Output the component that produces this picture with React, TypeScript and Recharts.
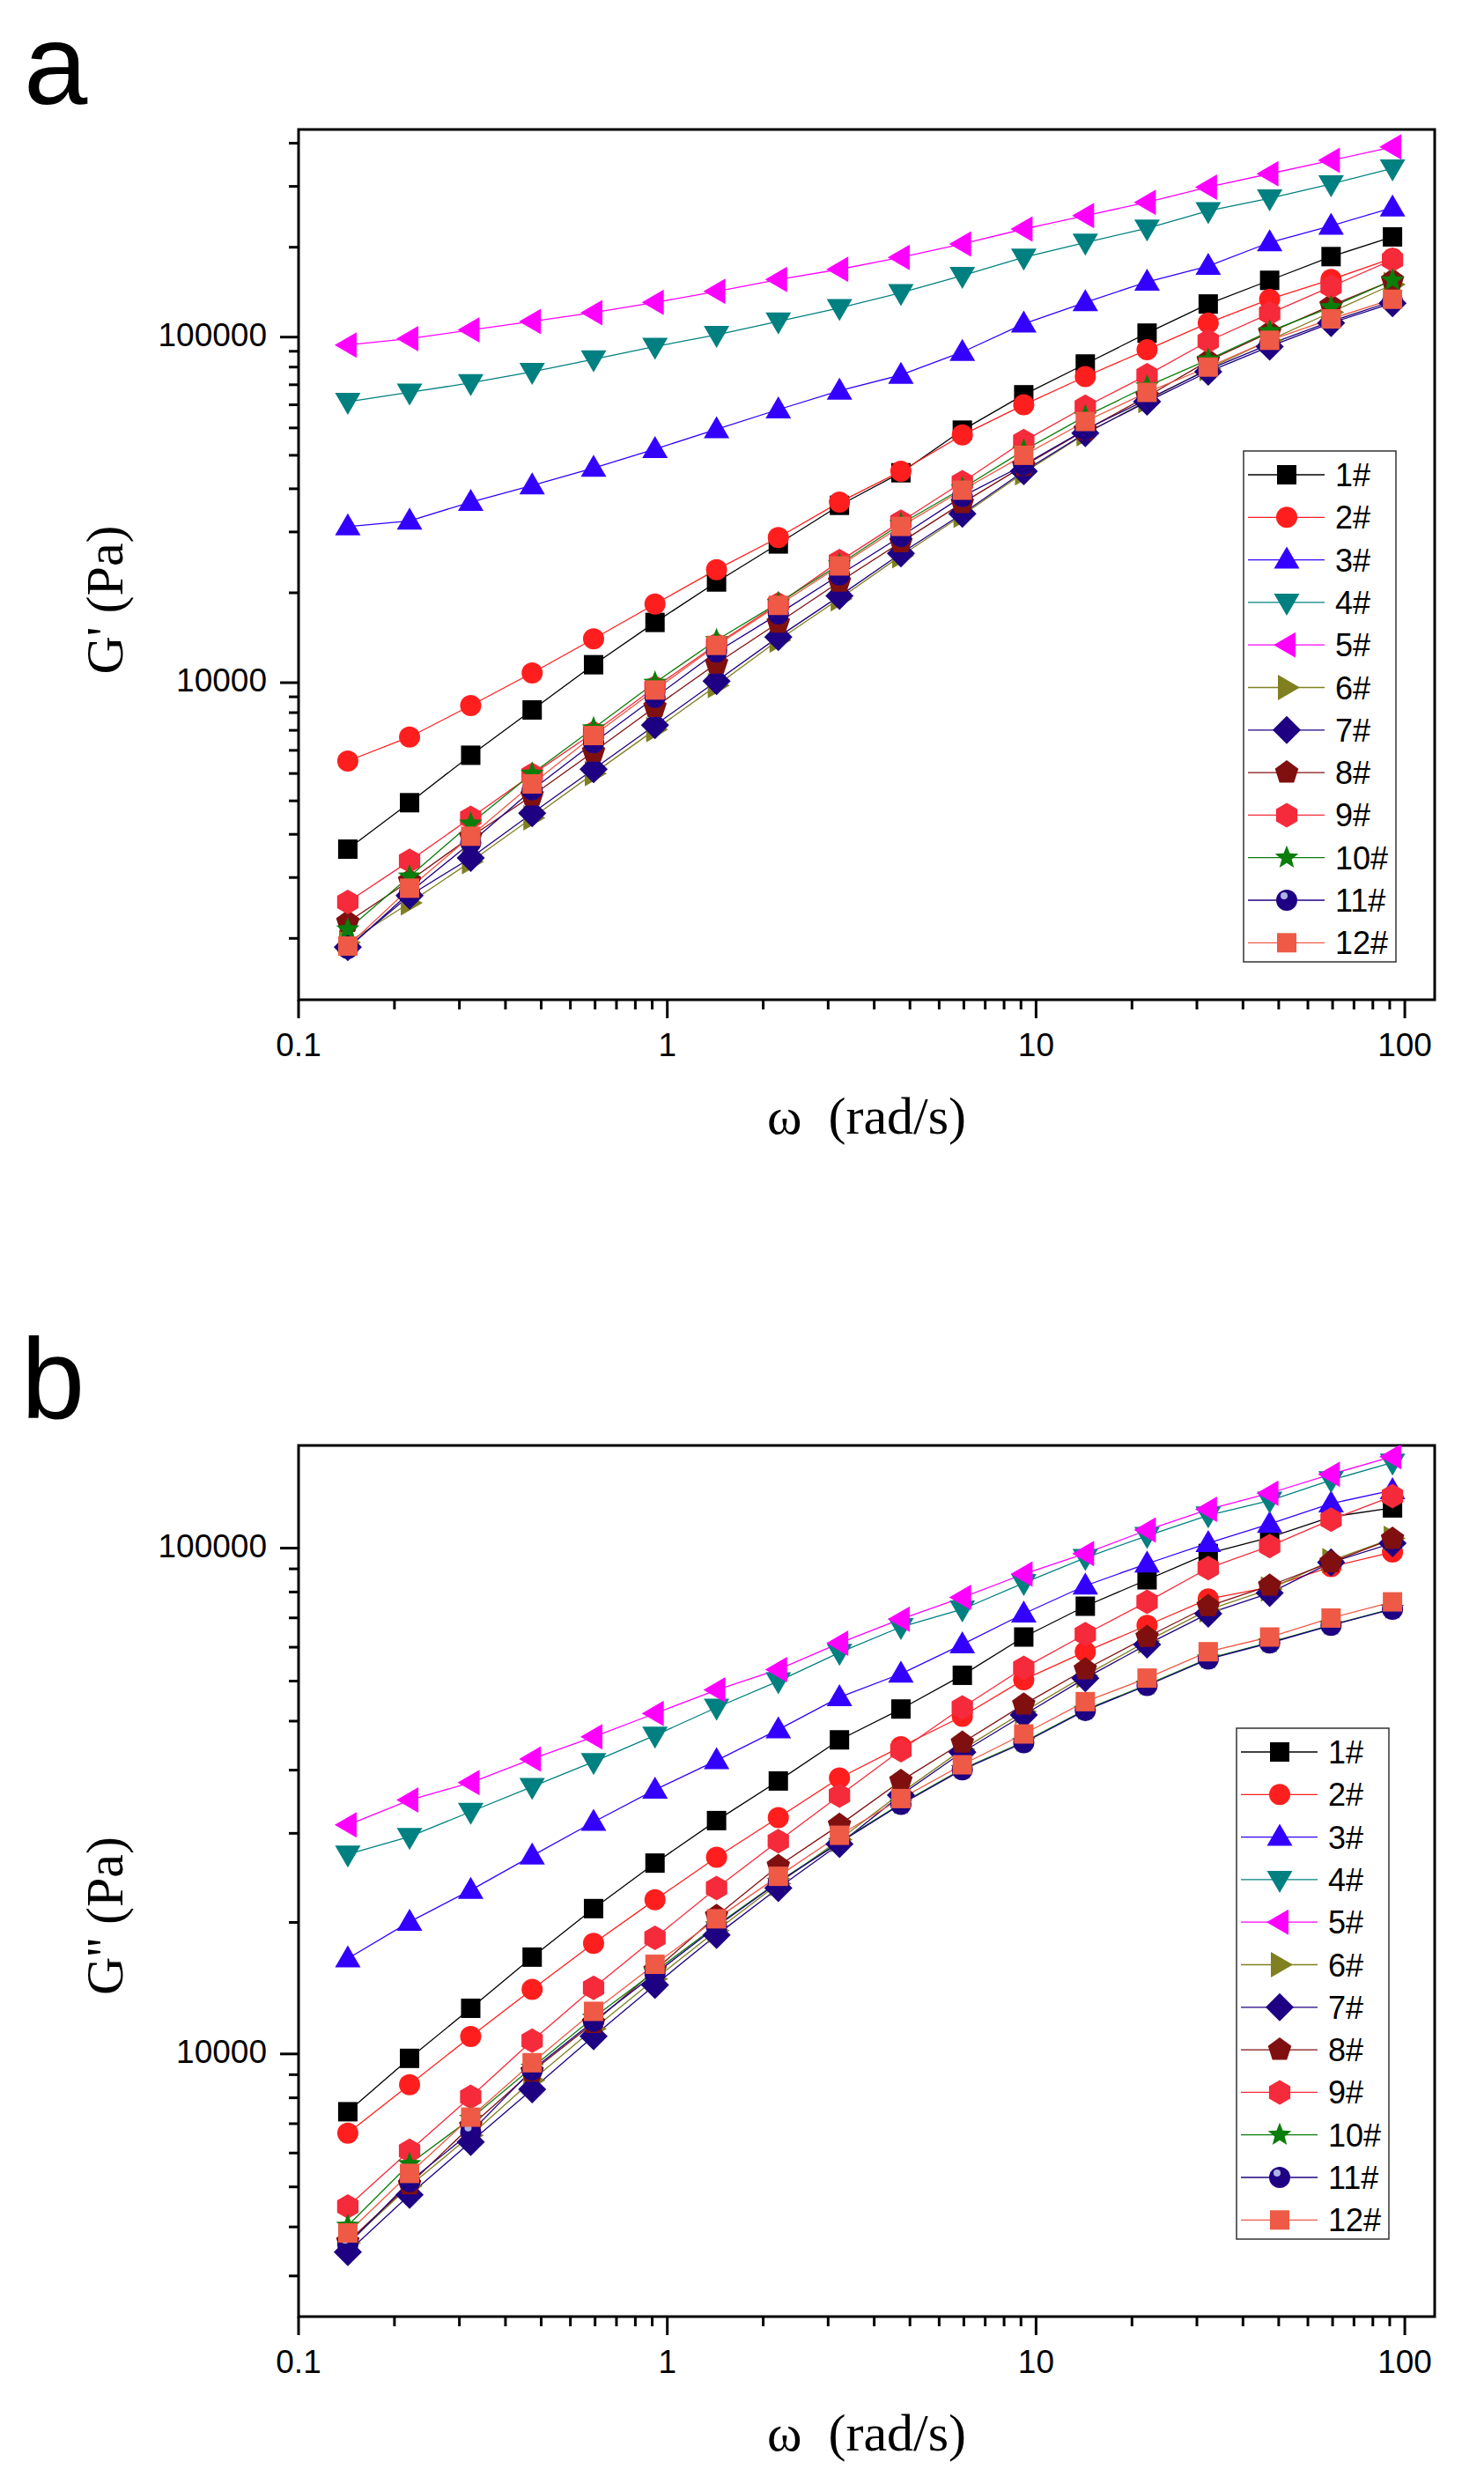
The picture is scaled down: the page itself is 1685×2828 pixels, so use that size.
import React from "react";
import { LineChart, Line, XAxis, YAxis, ReferenceArea } from "recharts";

// angular frequency (rad/s), shared by both panels
const omega = [0.136, 0.2, 0.293, 0.43, 0.631, 0.926, 1.36, 2, 2.93, 4.3, 6.31, 9.26, 13.6, 20, 29.3, 43, 63.1, 92.6];

const sampleNames = ["1#", "2#", "3#", "4#", "5#", "6#", "7#", "8#", "9#", "10#", "11#", "12#"];

// panel a: G' (Pa)
const gp1 = [3298, 4494, 6166, 8338, 11270, 14940, 19560, 25200, 32600, 40500, 53800, 68100, 83600, 102700, 124700, 146000, 171000, 195000];
const gp2 = [5932, 6962, 8585, 10670, 13390, 16890, 21240, 26300, 33300, 40900, 52100, 63700, 76900, 91900, 109900, 128700, 146800, 169100];
const gp3 = [28300, 29400, 33300, 37200, 41800, 47400, 54100, 61700, 69900, 77700, 90500, 109300, 126000, 144500, 160500, 187900, 209900, 236800];
const gp4 = [65000, 69200, 73700, 79400, 86300, 93900, 101600, 111100, 121500, 134300, 150600, 170100, 187900, 206500, 231800, 252200, 277300, 308100];
const gp5 = [94900, 99000, 104900, 111000, 117700, 126000, 135600, 146800, 157100, 170100, 186000, 205500, 224700, 245600, 271600, 297000, 324600, 355000];
const gp6 = [1770, 2306, 3033, 4064, 5460, 7312, 9807, 13280, 17500, 23300, 30500, 40500, 52500, 65500, 81000, 98000, 118000, 142000];
const gp7 = [1717, 2420, 3110, 4190, 5616, 7535, 10100, 13560, 17820, 23660, 30820, 40900, 52700, 65000, 79400, 93900, 109900, 125400];
const gp8 = [2030, 2670, 3580, 4712, 6310, 8500, 11360, 14910, 19590, 25490, 33100, 42400, 53800, 67300, 85400, 103200, 123400, 146000];
const gp9 = [2319, 3050, 4064, 5420, 7170, 9700, 12900, 16900, 22470, 29240, 38000, 50000, 62900, 77600, 97400, 117100, 140000, 167400];
const gp10 = [1932, 2750, 3908, 5453, 7380, 10000, 13280, 17000, 22000, 28800, 36500, 47000, 59000, 72000, 86000, 104000, 122000, 146000];
const gp11 = [1702, 2469, 3443, 4898, 6700, 9068, 12270, 15800, 20500, 26500, 34580, 42700, 54000, 66000, 80500, 95500, 111000, 127000];
const gp12 = [1729, 2543, 3595, 5093, 7031, 9525, 12820, 16740, 21770, 28330, 36060, 45500, 57000, 69200, 81900, 97900, 112900, 128700];

// panel b: G'' (Pa)
const gpp1 = [7687, 9801, 12310, 15540, 19380, 23840, 28930, 34650, 41780, 48080, 56060, 66720, 76770, 86580, 97600, 105000, 115300, 120100];
const gpp2 = [6971, 8690, 10830, 13420, 16550, 20170, 24490, 29330, 35130, 40500, 46500, 54950, 62400, 70360, 79340, 83700, 91920, 98240];
const gpp3 = [15440, 18240, 21080, 24650, 28740, 33290, 38050, 43780, 50720, 56430, 64500, 74210, 84280, 93160, 102300, 111600, 122500, 130100];
const gpp4 = [24810, 26880, 30130, 33750, 37810, 42640, 48410, 54590, 62150, 69860, 75710, 85370, 95680, 105800, 116100, 124200, 136300, 147700];
const gpp5 = [28360, 31770, 34390, 38300, 42350, 47120, 52440, 57540, 64900, 72400, 79900, 88870, 97600, 108600, 119300, 128400, 140000, 151700];
const gpp6 = [4227, 5483, 6900, 8870, 11210, 14060, 17530, 21710, 26530, 32800, 40000, 47500, 56000, 65500, 75500, 83000, 94500, 104500];
const gpp7 = [4058, 5265, 6700, 8510, 10840, 13690, 17180, 21280, 26000, 32500, 39500, 46800, 55330, 64500, 74210, 81500, 93700, 102300];
const gpp8 = [4253, 5520, 7200, 9230, 11510, 14640, 18740, 23530, 28360, 34650, 41240, 49060, 57590, 66720, 76770, 84280, 93790, 104300];
const gpp9 = [4993, 6435, 8228, 10620, 13510, 16960, 21280, 26350, 32420, 39870, 48400, 57970, 67600, 78310, 91300, 100900, 113800, 126700];
const gpp10 = [4576, 6058, 7450, 9400, 11800, 14550, 17950, 21900, 26250, 31250, 36600, 41400, 47900, 53700, 60500, 65100, 70500, 75900];
const gpp11 = [4198, 5592, 7000, 9300, 11600, 14400, 17850, 21860, 26170, 31150, 36460, 41240, 47760, 53520, 60350, 64940, 70360, 75710];
const gpp12 = [4426, 5805, 7500, 9608, 12140, 15040, 18500, 22450, 27060, 31980, 37300, 42920, 49720, 55340, 62400, 66720, 72750, 78310];

const seriesColors = ["#000000", "#FF1E1E", "#3300FF", "#008080", "#FF00FF", "#808020", "#1E0082", "#801010", "#F52A3A", "#0A7D0A", "#1E0082", "#EE5A45"];
const seriesShapes = ["square", "circle", "up", "down", "left", "right", "diamond", "pentagon", "hexagon", "star", "sphere", "square"];

// axis ticks
const xMajorTicks = [0.1, 1, 10, 100];
const xTickLabels = ["0.1", "1", "10", "100"];
const yMajorTicks = [10000, 100000];
const yTickLabels = ["10000", "100000"];
const minorFactor = 0.91;

const xDomain = [0.1, 120.5];
const yDomainA = [1209, 398900];
const yDomainB = [3025, 159600];

const SANS = "'Liberation Sans', Arial, sans-serif";
const SERIF = "'Liberation Serif', 'Times New Roman', serif";

function minorTicks(lo: number, hi: number) {
  const out: number[] = [];
  for (let n = -2; n <= 6; n++) {
    for (let k = 2; k <= 10; k++) {
      const v = minorFactor * k * Math.pow(10, n);
      if (v > lo && v < hi) out.push(v);
    }
  }
  return out;
}

function polygon(cx: number, cy: number, r: number, n: number, start: number) {
  const pts: string[] = [];
  for (let i = 0; i < n; i++) {
    const a = ((start + (360 / n) * i) * Math.PI) / 180;
    pts.push(`${cx + r * Math.cos(a)},${cy + r * Math.sin(a)}`);
  }
  return pts.join(" ");
}

function starPoints(cx: number, cy: number, ro: number, ri: number) {
  const pts: string[] = [];
  for (let i = 0; i < 10; i++) {
    const r = i % 2 === 0 ? ro : ri;
    const a = ((-90 + 36 * i) * Math.PI) / 180;
    pts.push(`${cx + r * Math.cos(a)},${cy + r * Math.sin(a)}`);
  }
  return pts.join(" ");
}

const Marker = ({ shape, cx, cy, color }: { shape: string; cx: number; cy: number; color: string }) => {
  switch (shape) {
    case "square":
      return <rect x={cx - 11} y={cy - 11} width={22} height={22} fill={color} />;
    case "circle":
      return <circle cx={cx} cy={cy} r={12} fill={color} />;
    case "up":
      return <polygon points={`${cx},${cy - 15} ${cx + 14.5},${cy + 10} ${cx - 14.5},${cy + 10}`} fill={color} />;
    case "down":
      return <polygon points={`${cx},${cy + 15} ${cx + 14.5},${cy - 10} ${cx - 14.5},${cy - 10}`} fill={color} />;
    case "left":
      return <polygon points={`${cx - 15},${cy} ${cx + 10},${cy - 14.5} ${cx + 10},${cy + 14.5}`} fill={color} />;
    case "right":
      return <polygon points={`${cx + 15},${cy} ${cx - 10},${cy - 14.5} ${cx - 10},${cy + 14.5}`} fill={color} />;
    case "diamond":
      return <polygon points={`${cx},${cy - 16} ${cx + 16},${cy} ${cx},${cy + 16} ${cx - 16},${cy}`} fill={color} />;
    case "pentagon":
      return <polygon points={polygon(cx, cy, 14, 5, -90)} fill={color} />;
    case "hexagon":
      return <polygon points={polygon(cx, cy, 14, 6, -90)} fill={color} />;
    case "star":
      return <polygon points={starPoints(cx, cy, 14, 6)} fill={color} />;
    case "sphere":
      return (
        <g>
          <circle cx={cx} cy={cy} r={12} fill={color} />
          <circle cx={cx - 3} cy={cy - 5} r={4} fill="#C8D2F5" opacity={0.85} />
        </g>
      );
    default:
      return <circle cx={cx} cy={cy} r={10} fill={color} />;
  }
};

const XTick = (props: any) => {
  const { x, y, payload } = props;
  const idx = xMajorTicks.indexOf(payload.value);
  const major = idx >= 0;
  return (
    <g>
      <line x1={x} x2={x} y1={y} y2={y + (major ? 21 : 11)} stroke="#000" strokeWidth={3} />
      {major && (
        <text x={x} y={y + 64} textAnchor="middle" fontSize={37} fontFamily={SANS} fill="#000">
          {xTickLabels[idx]}
        </text>
      )}
    </g>
  );
};

const YTick = (props: any) => {
  const { x, y, payload } = props;
  const idx = yMajorTicks.indexOf(payload.value);
  const major = idx >= 0;
  return (
    <g>
      <line x1={x - (major ? 21 : 11)} x2={x} y1={y} y2={y} stroke="#000" strokeWidth={3} />
      {major && (
        <text x={x - 36} y={y + 10} textAnchor="end" fontSize={37} fontFamily={SANS} fill="#000">
          {yTickLabels[idx]}
        </text>
      )}
    </g>
  );
};

function buildRows(series: number[][]) {
  return omega.map((w, i) => {
    const row: Record<string, number> = { w };
    series.forEach((s, j) => {
      row[`s${j + 1}`] = s[i];
    });
    return row;
  });
}

const rowsA = buildRows([gp1, gp2, gp3, gp4, gp5, gp6, gp7, gp8, gp9, gp10, gp11, gp12]);
const rowsB = buildRows([gpp1, gpp2, gpp3, gpp4, gpp5, gpp6, gpp7, gpp8, gpp9, gpp10, gpp11, gpp12]);

const Panel = ({ rows, yDomain, height, margin, id }: any) => {
  const xTicks = [...xMajorTicks, ...minorTicks(xDomain[0], xDomain[1])];
  const yTicks = [...yMajorTicks.filter((v) => v > yDomain[0] && v < yDomain[1]), ...minorTicks(yDomain[0], yDomain[1])];
  return (
    <LineChart width={1685} height={height} data={rows} margin={margin}>
      <XAxis
        dataKey="w"
        type="number"
        scale="log"
        domain={xDomain}
        allowDataOverflow
        ticks={xTicks}
        interval={0}
        tickSize={0}
        tickMargin={0}
        tickLine={false}
        axisLine={false}
        height={100}
        tick={(p: any) => <XTick {...p} />}
      />
      <YAxis
        type="number"
        scale="log"
        domain={yDomain}
        allowDataOverflow
        ticks={yTicks}
        interval={0}
        tickSize={0}
        tickMargin={0}
        tickLine={false}
        axisLine={false}
        width={100}
        tick={(p: any) => <YTick {...p} />}
      />
      {seriesColors.map((color, j) => (
        <Line
          key={`${id}-s${j + 1}`}
          type="linear"
          dataKey={`s${j + 1}`}
          name={sampleNames[j]}
          stroke={color}
          strokeWidth={1.3}
          isAnimationActive={false}
          activeDot={false}
          dot={(p: any) => {
            const k = `${id}-${j}-${p.index}`;
            if (p.cx == null || p.cy == null) return <g key={k} />;
            return (
              <g key={k}>
                <Marker shape={seriesShapes[j]} cx={p.cx} cy={p.cy} color={color} />
              </g>
            );
          }}
        />
      ))}
      <ReferenceArea
        x1={xDomain[0]}
        x2={xDomain[1]}
        y1={yDomain[0]}
        y2={yDomain[1]}
        fill="none"
        fillOpacity={0}
        stroke="#000"
        strokeWidth={3}
        ifOverflow="visible"
      />
    </LineChart>
  );
};

const LegendBox = ({ left, top }: { left: number; top: number }) => (
  <g transform={`translate(${left},${top})`}>
    <rect x={0} y={0} width={173} height={580} fill="#fff" stroke="#333" strokeWidth={1.5} />
    {sampleNames.map((name, i) => {
      const y = 27 + i * 48.3;
      return (
        <g key={name}>
          <line x1={5} x2={92} y1={y} y2={y} stroke={seriesColors[i]} strokeWidth={1.3} />
          <Marker shape={seriesShapes[i]} cx={49} cy={y} color={seriesColors[i]} />
          <text x={104} y={y + 13} fontSize={36} fontFamily={SANS} fill="#000">
            {name}
          </text>
        </g>
      );
    })}
  </g>
);

export default function App() {
  return (
    <div style={{ position: "absolute", left: 0, top: 0, width: 1685, height: 2828, background: "#fff", overflow: "hidden" }}>
      <div style={{ position: "absolute", left: 0, top: 0 }}>
        <Panel id="a" rows={rowsA} yDomain={yDomainA} height={1400} margin={{ top: 147, right: 56, bottom: 165, left: 239 }} />
      </div>
      <div style={{ position: "absolute", left: 0, top: 1400 }}>
        <Panel id="b" rows={rowsB} yDomain={yDomainB} height={1428} margin={{ top: 241, right: 56, bottom: 98, left: 239 }} />
      </div>
      <svg width={1685} height={2828} style={{ position: "absolute", left: 0, top: 0, pointerEvents: "none" }}>
        <text x={27} y={118} fontSize={130} fontFamily={SANS} fill="#000">a</text>
        <text x={24} y={1610} fontSize={130} fontFamily={SANS} fill="#000">b</text>

        <text x={0} y={0} transform="translate(139,681) rotate(-90)" textAnchor="middle" fontSize={60} fontFamily={SERIF} fill="#000">
          G' (Pa)
        </text>
        <text x={984} y={1287} textAnchor="middle" fontSize={60} fontFamily={SERIF} fill="#000">
          {"ω\u00a0\u00a0(rad/s)"}
        </text>

        <text x={0} y={0} transform="translate(139,2175) rotate(-90)" textAnchor="middle" fontSize={60} fontFamily={SERIF} fill="#000">
          G'' (Pa)
        </text>
        <text x={984} y={2782} textAnchor="middle" fontSize={60} fontFamily={SERIF} fill="#000">
          {"ω\u00a0\u00a0(rad/s)"}
        </text>

        <LegendBox left={1412} top={512} />
        <LegendBox left={1404} top={1962} />
      </svg>
    </div>
  );
}
